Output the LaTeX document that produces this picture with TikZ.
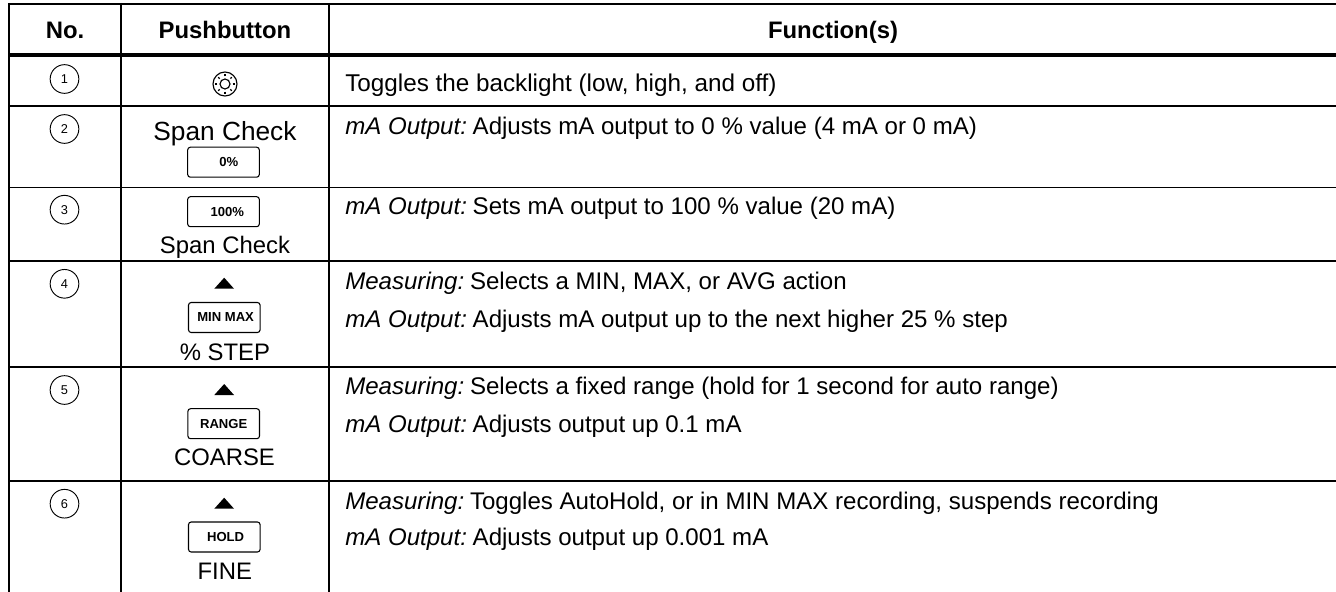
\documentclass[tikz,border=0pt]{standalone}
\usepackage{fontspec}
\setmainfont{Liberation Sans}
\newcommand{\lead}[1]{{\itshape #1}\kern-2.4pt\relax}
\begin{document}
\begin{tikzpicture}[x=0.75pt,y=-0.75pt,
  rule/.style={line width=1.5pt,line cap=butt},
  thinrule/.style={line width=1.1pt,line cap=butt},
  thickrule/.style={line width=3pt,line cap=butt},
  head/.style={anchor=base,inner sep=0pt,font=\fontsize{17.9pt}{20pt}\selectfont\bfseries},
  lbl/.style={anchor=base,inner sep=0pt,font=\fontsize{17.9pt}{20pt}\selectfont},
  lblbig/.style={anchor=base,inner sep=0pt,font=\fontsize{19.7pt}{22pt}\selectfont},
  func/.style={anchor=base west,inner sep=0pt,font=\fontsize{18.05pt}{20pt}\selectfont},
  funcwide/.style={anchor=base west,inner sep=0pt,font=\fontsize{18.2pt}{20pt}\selectfont},
  numc/.style={circle,draw,line width=0.7pt,minimum size=21.5pt,inner sep=0pt,font=\fontsize{9.6pt}{10pt}\selectfont},
  key/.style={draw,line width=0.8pt,rounded corners=2pt,minimum width=53.7pt,minimum height=22.5pt,inner sep=0pt,font=\fontsize{9.8pt}{11pt}\selectfont\bfseries},
  tri/.style={fill=black,draw=none},
  sunring/.style={circle,draw,line width=0.85pt,inner sep=0pt}]
\useasboundingbox (0,0) rectangle (1336,592);
\fill[white] (0,0) rectangle (1336,592);
% rules
\draw[rule] (8,4) -- (1336,4);
\draw[thickrule] (8,55) -- (1336,55);
\foreach \yy in {105.7,261,366.7,480.7} \draw[rule] (8,\yy) -- (1336,\yy);
\draw[thinrule] (8,187.3) -- (1336,187.3);
\foreach \xx in {8.7,121,329} \draw[rule] (\xx,3) -- (\xx,592);
% header
\node[head] (h1) at (65,39) {No.};
\node[head] (h2) at (225,39) {Pushbutton};
\node[head] (h3) at (833,39) {Function(s)};
% numbers
\node[numc] (n1) at (64.5,79) {1};
\node[numc] (n2) at (64.5,129) {2};
\node[numc] (n3) at (64.5,209.7) {3};
\node[numc] (n4) at (64.5,283.8) {4};
\node[numc] (n5) at (64.5,390) {5};
\node[numc] (n6) at (64.5,503.7) {6};
% backlight icon
\node[sunring,minimum size=18pt] (sun) at (225,84) {};
\node[sunring,minimum size=7.5pt] (sunc) at (225,84) {};
\foreach \a in {0,45,...,315} \draw[line width=0.85pt] (225,84) ++(\a:7.6) -- ++(\a:2);
% pushbuttons
\node[lblbig] (s2) at (225,140.7) {Span Check};
\node[key] (k2) at (223.5,162.2) {\hspace*{8pt}0\%};
\node[key] (k3) at (223.5,211.7) {\hspace*{5.7pt}100\%};
\node[lbl] (s3) at (225,253.3) {Span Check};
\node[key] (k4) at (224.3,317.5) {\hspace*{2pt}MIN MAX};
\node[lbl] (s4) at (225,360) {\% STEP};
\node[key] (k5) at (223.7,423.7) {RANGE};
\node[lbl] (s5) at (224.5,465.3) {COARSE};
\node[key] (k6) at (224.3,537) {\hspace*{2pt}HOLD};
\node[lbl] (s6) at (224.8,579.7) {FINE};
\foreach \yy in {288.7,395,508.7}
  \fill[tri] (214.3,\yy) -- (234,\yy) -- (224.2,\yy-11) -- cycle;
% functions
\node[funcwide] (f1) at (345,91.5) {Toggles the backlight (low, high, and off)};
\node[func] (f2) at (345,134) {\lead{mA Output:} Adjusts mA output to 0 \% value (4 mA or 0 mA)};
\node[func] (f3) at (345,214.7) {\lead{mA Output:} Sets mA output to 100 \% value (20 mA)};
\node[func] (f4a) at (345,289) {\lead{Measuring:} Selects a MIN, MAX, or AVG action};
\node[func] (f4b) at (345,327) {\lead{mA Output:} Adjusts mA output up to the next higher 25 \% step};
\node[func] (f5a) at (345,394.7) {\lead{Measuring:} Selects a fixed range (hold for 1 second for auto range)};
\node[func] (f5b) at (345,432.7) {\lead{mA Output:} Adjusts output up 0.1 mA};
\node[func] (f6a) at (345,509) {\lead{Measuring:} Toggles AutoHold, or in MIN MAX recording, suspends recording};
\node[func] (f6b) at (345,545.7) {\lead{mA Output:} Adjusts output up 0.001 mA};
\end{tikzpicture}
\end{document}
